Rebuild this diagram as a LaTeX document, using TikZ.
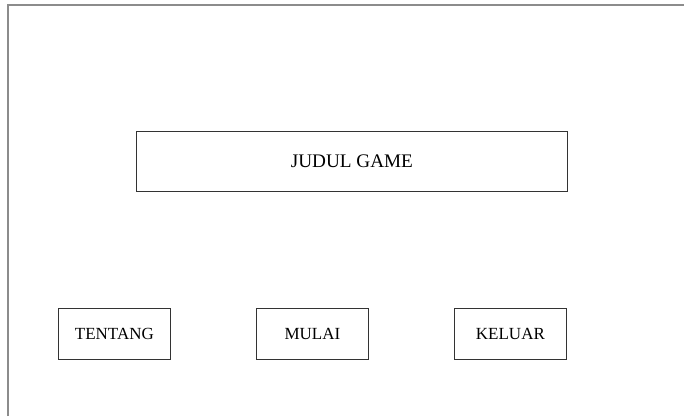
\documentclass[tikz,border=0pt]{standalone}
\usepackage{fontspec}
\setmainfont{Liberation Serif}
\begin{document}
\begin{tikzpicture}[x=1pt,y=-1pt,
  box/.style={draw=black!80, line width=0.8pt, fill=white, inner sep=0pt, anchor=north west},
  btn/.style={box, minimum width=112pt, minimum height=51pt, font=\fontsize{17}{19}\selectfont},
  frame/.style={draw=black!45, line width=1.6pt}]
\useasboundingbox (0,0) rectangle (684,416);
\coordinate (fb) at (8,416);
\coordinate (fc) at (8,5);
\coordinate (fr) at (684,5);
\draw[frame] (fb) -- (fc) -- (fr);
\node[box, minimum width=431pt, minimum height=60pt, font=\fontsize{19.2}{21}\selectfont] (title) at (136,131) {JUDUL GAME};
\node[btn] (tentang) at (58,308) {TENTANG};
\node[btn] (mulai) at (256,308) {MULAI};
\node[btn] (keluar) at (454,308) {KELUAR};
\end{tikzpicture}
\end{document}
